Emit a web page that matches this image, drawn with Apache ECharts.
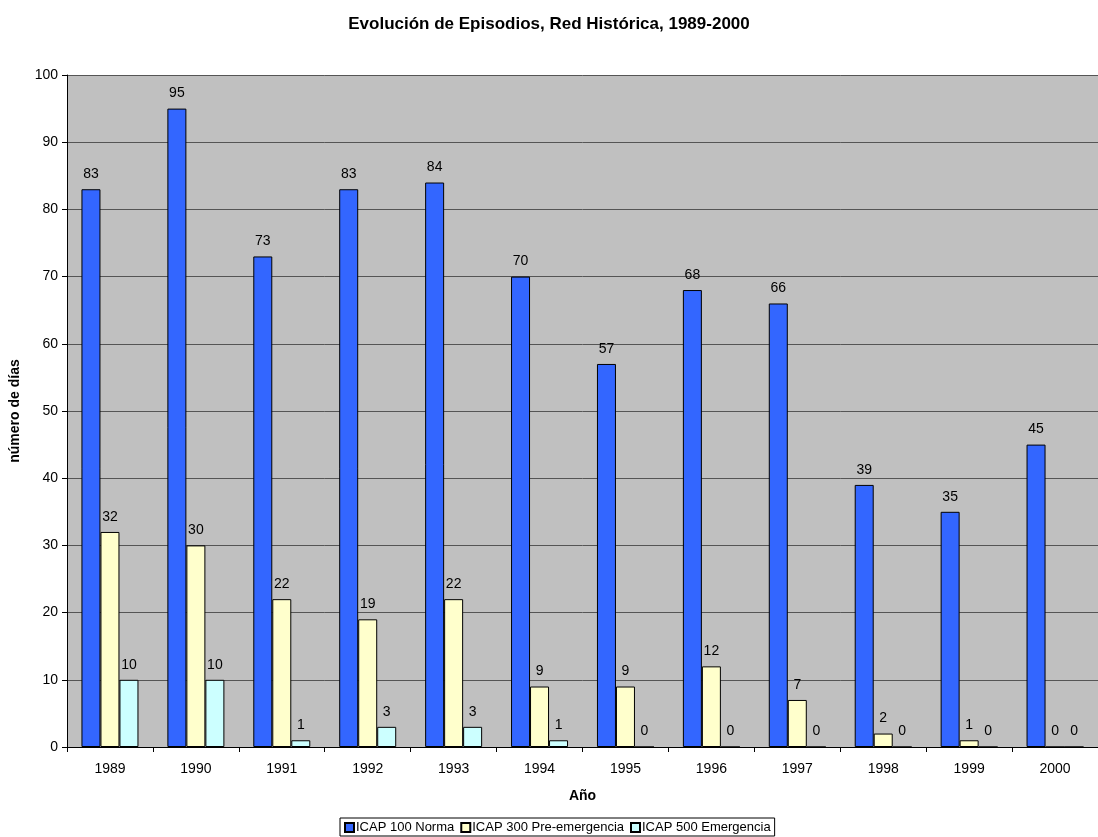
<!DOCTYPE html>
<html>
<head>
<meta charset="utf-8">
<script src="https://cdn.jsdelivr.net/npm/echarts@6/dist/echarts.min.js"></script>
<style>
  html, body { margin: 0; padding: 0; background: #fff; }
  #chart { width: 1098px; height: 837px; }
</style>
</head>
<body>
<div id="chart"></div>
<script>
// Episodes per year, historical monitoring network
const years = ['1989', '1990', '1991', '1992', '1993', '1994', '1995', '1996', '1997', '1998', '1999', '2000'];
const icap100 = [83, 95, 73, 83, 84, 70, 57, 68, 66, 39, 35, 45];
const icap300 = [32, 30, 22, 19, 22, 9, 9, 12, 7, 2, 1, 0];
const icap500 = [10, 10, 1, 3, 3, 1, 0, 0, 0, 0, 0, 0];
const seriesNames = ['ICAP 100 Norma', 'ICAP 300 Pre-emergencia', 'ICAP 500 Emergencia'];
const yTicks = { min: 0, max: 100, interval: 10 };

const FONT = 'Liberation Sans, Arial, sans-serif';

function barSeries(name, data, color) {
  return {
    name: name,
    type: 'bar',
    data: data,
    barWidth: 19,
    barGap: '0%',
    itemStyle: { color: color, borderColor: '#000', borderWidth: 1 },
    label: {
      show: true,
      position: 'top',
      distance: 8,
      color: '#000',
      fontFamily: FONT,
      fontSize: 14
    },
    emphasis: { disabled: true }
  };
}

const chart = echarts.init(document.getElementById('chart'));
chart.setOption({
  animation: false,
  backgroundColor: '#fff',
  title: {
    text: 'Evolución de Episodios, Red Histórica, 1989-2000',
    left: 'center',
    top: 11,
    textStyle: { fontFamily: FONT, fontSize: 17, fontWeight: 'bold', color: '#000' }
  },
  legend: {
    bottom: 1,
    left: 340,
    itemWidth: 9,
    itemHeight: 9,
    itemGap: 6,
    padding: [3, 4, 2, 4],
    borderColor: '#000',
    borderWidth: 1,
    icon: 'rect',
    textStyle: { fontFamily: FONT, fontSize: 13, color: '#000', padding: [0, 0, 0, -3] },
    data: seriesNames
  },
  grid: {
    left: 67,
    right: -5,
    top: 75,
    bottom: 90,
    show: true,
    backgroundColor: '#C0C0C0',
    borderWidth: 0
  },
  xAxis: {
    type: 'category',
    data: years,
    name: 'Año',
    nameLocation: 'middle',
    nameGap: 42,
    nameTextStyle: { fontFamily: FONT, fontSize: 14, fontWeight: 'bold', color: '#000' },
    axisLine: { lineStyle: { color: '#000', width: 1 } },
    axisTick: { show: true, inside: false, length: 5, lineStyle: { color: '#000' } },
    axisLabel: { fontFamily: FONT, fontSize: 14, color: '#000', margin: 15 }
  },
  yAxis: {
    type: 'value',
    min: yTicks.min,
    max: yTicks.max,
    interval: yTicks.interval,
    name: 'número de días',
    nameLocation: 'middle',
    nameGap: 45,
    nameRotate: 90,
    nameTextStyle: { fontFamily: FONT, fontSize: 14, fontWeight: 'bold', color: '#000' },
    axisLine: { show: true, lineStyle: { color: '#000', width: 1 } },
    axisTick: { show: true, inside: false, length: 5, lineStyle: { color: '#000' } },
    axisLabel: { fontFamily: FONT, fontSize: 14, color: '#000', margin: 9 },
    splitLine: { show: true, lineStyle: { color: '#555', width: 1 } }
  },
  series: [
    barSeries(seriesNames[0], icap100, '#3366FF'),
    barSeries(seriesNames[1], icap300, '#FFFFCC'),
    barSeries(seriesNames[2], icap500, '#CCFFFF')
  ]
});
</script>
</body>
</html>
